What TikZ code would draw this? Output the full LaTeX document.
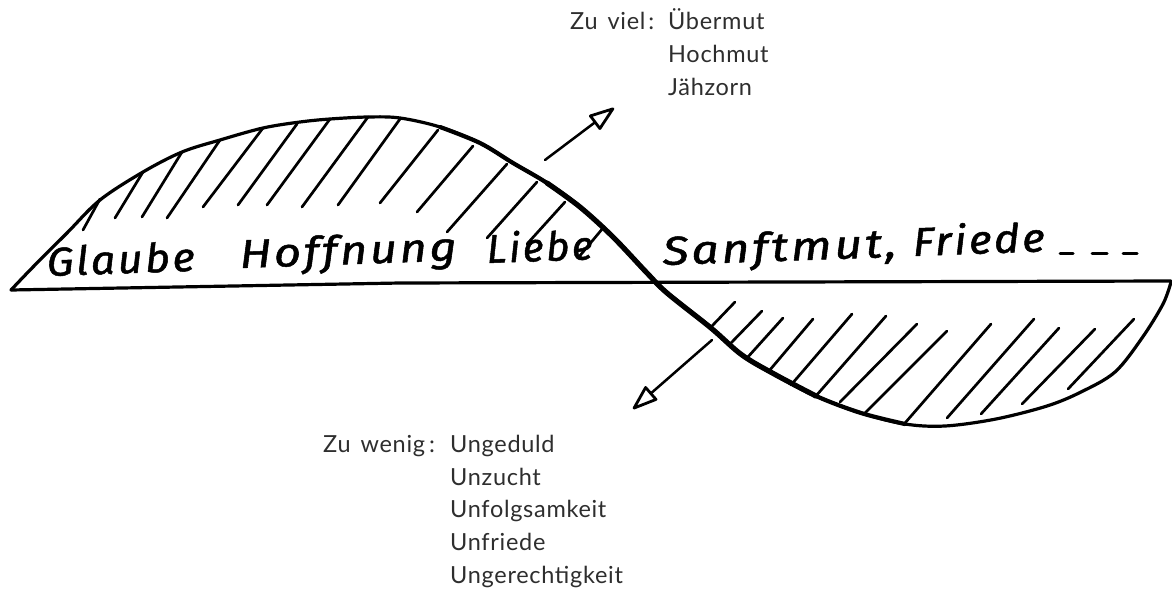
\documentclass[tikz,border=0pt]{standalone}
\usepackage{fontspec}
\usepackage{graphicx}
\setmainfont{Lato}
\newfontfamily\printfont{Lato}[LetterSpace=3]
\newfontfamily\handfont{Fira Sans}[LetterSpace=6,FakeBold=1.2]
\newcommand{\handword}[2]{\resizebox{#1}{\height}{#2}}
\usetikzlibrary{arrows.meta}
\begin{document}
\begin{tikzpicture}[x=1pt,y=-1pt,
  ink/.style={line width=3.2pt,line cap=round,line join=round,black},
  midink/.style={line width=4.2pt,line cap=round,line join=round,black},
  thickink/.style={line width=5.2pt,line cap=round,line join=round,black},
  hatch/.style={line width=2.7pt,line cap=round,black},
  arrowline/.style={line width=2.5pt,line cap=round,black,
     -{Triangle[open,length=28pt,width=19pt,line width=2.8pt,line join=round]}},
  printed/.style={inner sep=0pt,anchor=base west,text=black!82,
     font=\printfont\fontsize{23.5}{28}\selectfont},
  handtext/.style={inner sep=0pt,anchor=base west,text=black,rotate=2,
     font=\handfont\itshape\fontsize{40}{46}\selectfont},
  dashmark/.style={line width=3pt,line cap=round,black}]
\useasboundingbox[fill=white] (0,0) rectangle (1172,594);

% axis
\coordinate (axL) at (11,290);
\coordinate (axM) at (400,283);
\coordinate (axR) at (1171,281);
\draw[ink] (axL) -- (axM) -- (axR);

% the wave
\draw[ink] plot[smooth,tension=0.55] coordinates {
 (11,290) (33,267) (67,233) (100,200) (143,172) (182,152) (220,140) (263,128)
 (300,122) (330,119) (368,117) (400,118) (440,127) (480,143) (513,163)
 (547,183) (580,207) (613,237) (647,273) (667,293) (711,328) (742,355)
 (776,375) (816,396) (861,413) (905,424) (945,426) (996,419) (1047,406)
 (1081,392) (1115,372) (1142,338) (1163,304) (1171,282)};
\draw[midink] plot[smooth,tension=0.55] coordinates {
 (440,127) (480,143) (513,163)
 (547,183) (580,207) (613,237) (647,273) (667,293) (711,328) (742,355)
 (776,375) (816,396) (861,413) (905,424)};
\draw[thickink] plot[smooth,tension=0.55] coordinates {
 (547,183) (580,207) (613,237) (647,273) (667,293) (711,328) (742,355)
 (776,375) (816,396)};

% upper hatching
\foreach \xa/\ya/\xb/\yb in {
 100/199/83/230, 143/172/115/218, 182/152/142/217, 220/140/167/218,
 263/128/203/207, 297/124/238/205, 330/119/267/205, 368/117/302/207,
 400/119/338/205, 438/130/380/203, 473/146/417/212, 507/164/447/232,
 537/182/487/238, 565/202/527/244, 603/228/578/258}
 \draw[hatch] (\xa,\ya) -- (\xb,\yb);

% lower hatching
\foreach \xa/\ya/\xb/\yb in {
 735/302/711/327, 762/311/730/344, 783/318/747/358, 813/319/769/371,
 852/314/791/385, 886/316/815/397, 917/324/840/402, 947/331/864/414,
 991/324/905/423, 1034/319/947/418, 1059/328/981/414, 1095/329/1022/404,
 1134/319/1068/389}
 \draw[hatch] (\xa,\ya) -- (\xb,\yb);

% arrows
\coordinate (upTail) at (545,160);
\coordinate (upTip) at (614,108);
\coordinate (dnTail) at (712,340);
\coordinate (dnTip) at (633,409);
\draw[arrowline] (upTail) -- (upTip);
\draw[arrowline] (dnTail) -- (dnTip);

% handwritten words
\node[handtext] (glaube) at (47,276) {\handword{148pt}{Glaube}};
\node[handtext] (hoffnung) at (240,268) {\handword{217pt}{Hoffnung}};
\node[handtext] (liebe) at (487,263) {\handword{106pt}{Liebe}};
\node[handtext] (sanftmut) at (663,265) {\handword{234pt}{Sanftmut,}};
\node[handtext] (friede) at (913,256) {\handword{132pt}{Friede}};
\draw[dashmark] (1060,253) -- (1073,253);
\draw[dashmark] (1092,253) -- (1107,253);
\draw[dashmark] (1123,253) -- (1137,253);

% printed lists
\node[printed] (zuviel) at (570,30) {Zu\hspace{10pt}viel\hspace{3pt}:};
\node[printed] (v1) at (668,30) {Übermut};
\node[printed] (v2) at (668,63) {Hochmut};
\node[printed] (v3) at (668,95) {Jähzorn};

\node[printed] (zuwenig) at (323,452) {Zu\hspace{10pt}wenig\hspace{4pt}:};
\node[printed] (w1) at (450,452) {Ungeduld};
\node[printed] (w2) at (450,485) {Unzucht};
\node[printed] (w3) at (450,517.5) {Unfolgsamkeit};
\node[printed] (w4) at (450,550) {Unfriede};
\node[printed] (w5) at (450,583) {Ungerechtigkeit};
\end{tikzpicture}
\end{document}
